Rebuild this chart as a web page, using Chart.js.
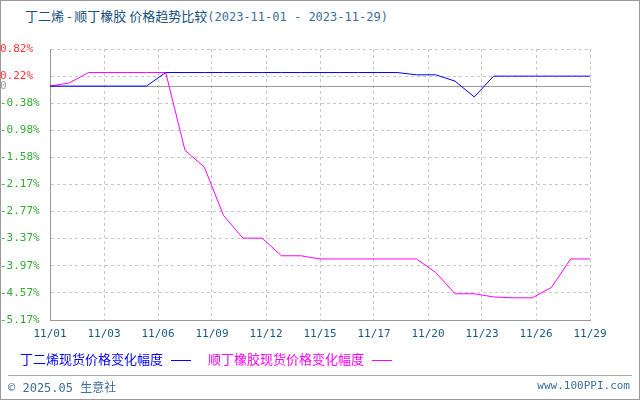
<!DOCTYPE html>
<html>
<head>
<meta charset="utf-8">
<script src="https://cdn.jsdelivr.net/npm/chart.js@4"></script>
<style>
  body { margin: 0; width: 640px; height: 400px; position: relative; font-family: "DejaVu Sans Mono", "Noto Sans CJK SC", monospace; background: #fff; }
  #frame { position: absolute; left: 0; top: 0; width: 638px; height: 398px; border: 1px solid #999; }
  #title { position: absolute; left: 25px; top: 6px; font-size: 13px; color: #16507a; font-family: "Noto Sans CJK SC", sans-serif; white-space: pre; }
  #title span { color: #3a6f99; font-family: "DejaVu Sans Mono", monospace; font-size: 12px; }
  #legend { position: absolute; left: 20px; top: 349px; font-size: 13px; font-family: "Noto Sans CJK SC", sans-serif; }
  #legend .item { margin-right: 14px; }
  #legend .sw { display: inline-block; width: 20px; height: 0; border-top: 1px solid; vertical-align: middle; margin-left: 8px; }
  #footline { position: absolute; left: 8px; right: 8px; top: 375px; border-top: 1px solid #aaa; }
  #foot1 { position: absolute; left: 8px; top: 378px; font-size: 12px; color: #3a6f99; }
  #foot2 { position: absolute; right: 10px; top: 379px; font-size: 11px; color: #3a6f99; }
  canvas { position: absolute; left: 0; top: 0; }
</style>
</head>
<body>
<div id="frame"></div>
<div id="title">丁二烯 - 顺丁橡胶 价格趋势比较<span>(2023-11-01 - 2023-11-29)</span></div>
<canvas id="c" width="640" height="400"></canvas>
<div id="legend">
  <span class="item" style="color:#0000ff">丁二烯现货价格变化幅度<span class="sw" style="border-color:#0000ff"></span></span>
  <span class="item" style="color:#ff00ff">顺丁橡胶现货价格变化幅度<span class="sw" style="border-color:#ff00ff"></span></span>
</div>
<div id="footline"></div>
<div id="foot1">© 2025.05 生意社</div>
<div id="foot2">www.100PPI.com</div>
<script>
// 日次データ (11/01 - 11/29), %
const days = [...Array(29).keys()];
const butadiene = [0, 0, 0, 0, 0, 0, 0.30, 0.30, 0.30, 0.30, 0.30, 0.30, 0.30, 0.30, 0.30, 0.30, 0.30, 0.30, 0.30, 0.25, 0.25, 0.11, -0.24, 0.22, 0.22, 0.22, 0.22, 0.22, 0.22];
const rubber = [0, 0.07, 0.30, 0.30, 0.30, 0.30, 0.30, -1.42, -1.79, -2.86, -3.36, -3.36, -3.75, -3.75, -3.82, -3.82, -3.82, -3.82, -3.82, -3.82, -4.12, -4.59, -4.59, -4.66, -4.68, -4.68, -4.45, -3.82, -3.82];
const xLabels = ["11/01", "11/03", "11/06", "11/09", "11/12", "11/15", "11/17", "11/20", "11/23", "11/26", "11/29"];
const yTicks = [0.82, 0.22, 0, -0.38, -0.98, -1.58, -2.17, -2.77, -3.37, -3.97, -4.57, -5.17];

// ゼロ線
const zeroLine = {
  id: 'zeroLine',
  beforeDatasetsDraw(chart) {
    const { ctx, chartArea, scales } = chart;
    const y = Math.round(scales.y.getPixelForValue(0)) + 0.5;
    ctx.save();
    ctx.strokeStyle = '#999';
    ctx.lineWidth = 1;
    ctx.beginPath();
    ctx.moveTo(chartArea.left, y);
    ctx.lineTo(chartArea.right, y);
    ctx.stroke();
    ctx.restore();
  }
};

new Chart(document.getElementById('c'), {
  type: 'line',
  data: {
    datasets: [
      { data: days.map((d, i) => ({ x: d, y: butadiene[i] })), borderColor: '#0000ff', borderWidth: 1, pointRadius: 0, tension: 0 },
      { data: days.map((d, i) => ({ x: d, y: rubber[i] })), borderColor: '#ff00ff', borderWidth: 1, pointRadius: 0, tension: 0 }
    ]
  },
  options: {
    responsive: false,
    animation: false,
    layout: { padding: { top: 49, right: 50, bottom: 58, left: 0 } },
    plugins: { legend: { display: false }, tooltip: { enabled: false } },
    scales: {
      x: {
        type: 'linear', min: 0, max: 28,
        afterBuildTicks: s => { s.ticks = xLabels.map((_, i) => ({ value: i * 2.8 })); },
        afterFit: s => { s.height = 22; },
        ticks: {
          callback: (v, i) => xLabels[i],
          color: '#1a5a8a', font: { family: 'DejaVu Sans Mono', size: 11 }, maxRotation: 0, padding: 8
        },
        grid: { color: '#c8c8c8', drawTicks: false },
        border: { color: '#999', dash: [3, 3] }
      },
      y: {
        min: -5.17, max: 0.82,
        afterBuildTicks: s => { s.ticks = yTicks.map(v => ({ value: v })); },
        afterFit: s => { s.width = 50; },
        ticks: {
          callback: v => v === 0 ? '0' : v.toFixed(2) + '%',
          color: ctx => ctx.tick.value > 0 ? '#ff3333' : (ctx.tick.value === 0 ? '#999' : '#33aa33'),
          font: { family: 'DejaVu Sans Mono', size: 11 },
          crossAlign: 'far', padding: 4
        },
        grid: { color: '#c8c8c8', drawTicks: false },
        border: { color: '#999', dash: [3, 3] }
      }
    }
  },
  plugins: [zeroLine]
});
</script>
</body>
</html>
